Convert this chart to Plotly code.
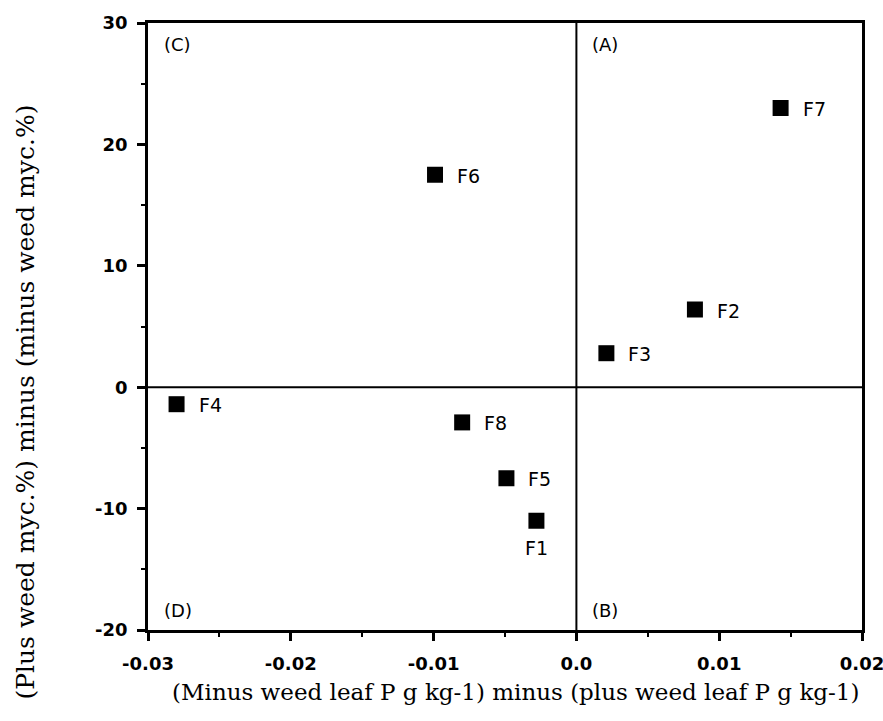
import plotly.graph_objects as go

# Data
labels = ["F1", "F2", "F3", "F4", "F5", "F6", "F7", "F8"]
x_vals = [-0.0028, 0.0083, 0.0021, -0.0280, -0.0049, -0.0099, 0.0143, -0.0080]
y_vals = [-11.0, 6.4, 2.8, -1.4, -7.5, 17.5, 23.0, -2.9]

x_ticks = [-0.03, -0.02, -0.01, 0.0, 0.01, 0.02]
x_ticktext = ["-0.03", "-0.02", "-0.01", "0.0", "0.01", "0.02"]
y_ticks = [-20, -10, 0, 10, 20, 30]
y_ticktext = ["-20", "-10", "0", "10", "20", "30"]
x_minor = [-0.025, -0.015, -0.005, 0.005, 0.015]
y_minor = [-15, -5, 5, 15, 25]

quadrants = ["(A)", "(B)", "(C)", "(D)"]
quad_x = [0.0, 0.0, -0.03, -0.03]
quad_y = [30, -20, 30, -20]

sans = "DejaVu Sans, Arial, sans-serif"
serif = "DejaVu Serif, Times New Roman, serif"

fig = go.Figure()
fig.add_trace(go.Scatter(
    x=x_vals, y=y_vals, mode="markers",
    marker=dict(symbol="square", size=16, color="black"),
    showlegend=False, hoverinfo="skip",
))

# Zero lines
fig.add_shape(type="line", x0=0, x1=0, y0=-20, y1=30, xref="x", yref="y",
              line=dict(color="black", width=2))
fig.add_shape(type="line", x0=-0.03, x1=0.02, y0=0, y1=0, xref="x", yref="y",
              line=dict(color="black", width=2))

# Point labels
for lab, xv, yv in zip(labels, x_vals, y_vals):
    if lab == "F1":
        fig.add_annotation(x=xv, y=yv, text=lab, showarrow=False, xref="x", yref="y",
                           yshift=-27, xshift=0,
                           font=dict(family=sans, size=19, color="black"))
    else:
        fig.add_annotation(x=xv, y=yv, text=lab, showarrow=False, xref="x", yref="y",
                           xanchor="left", xshift=20, yshift=-1,
                           font=dict(family=sans, size=19, color="black"))

# Quadrant labels
for q, qx, qy in zip(quadrants, quad_x, quad_y):
    fig.add_annotation(x=qx, y=qy, text=q, showarrow=False, xref="x", yref="y",
                       xanchor="left", yanchor="top" if qy > 0 else "bottom",
                       xshift=14, yshift=-9 if qy > 0 else 7,
                       font=dict(family=sans, size=18, color="black"))

# Axis titles
fig.add_annotation(x=0.515, y=-0.078, xref="paper", yref="paper",
                   text="(Minus weed leaf P g kg-1) minus (plus weed leaf P g kg-1)",
                   showarrow=False, yanchor="top",
                   font=dict(family=serif, size=23, color="black"))
fig.add_annotation(x=-0.172, y=0.375, xref="paper", yref="paper",
                   text="(Plus weed myc.%) minus (minus weed myc.%)",
                   showarrow=False, textangle=-90, xanchor="center", yanchor="middle",
                   font=dict(family=serif, size=25, color="black"))

axis_common = dict(
    showgrid=False, zeroline=False, showline=True, linecolor="black", linewidth=2.5,
    mirror=True, ticks="outside", ticklen=8, tickwidth=2.5, tickcolor="black",
    tickfont=dict(family=sans, size=18, color="black", weight="bold"),
    ticklabeloverflow="allow", automargin=False,
)

fig.update_xaxes(range=[-0.03, 0.02], tickmode="array", tickvals=x_ticks,
                 ticktext=x_ticktext, ticklabelstandoff=8,
                 minor=dict(tickmode="array", tickvals=x_minor, ticks="outside",
                            ticklen=4, tickwidth=2, tickcolor="black"),
                 **axis_common)
fig.update_yaxes(range=[-20, 30], tickmode="array", tickvals=y_ticks,
                 ticktext=y_ticktext, ticklabelstandoff=6,
                 minor=dict(tickmode="array", tickvals=y_minor, ticks="outside",
                            ticklen=4, tickwidth=2, tickcolor="black"),
                 **axis_common)

fig.update_layout(
    width=883, height=721,
    margin=dict(l=148, r=21, t=23, b=91),
    plot_bgcolor="white", paper_bgcolor="white",
)

fig.write_html("out.html")
